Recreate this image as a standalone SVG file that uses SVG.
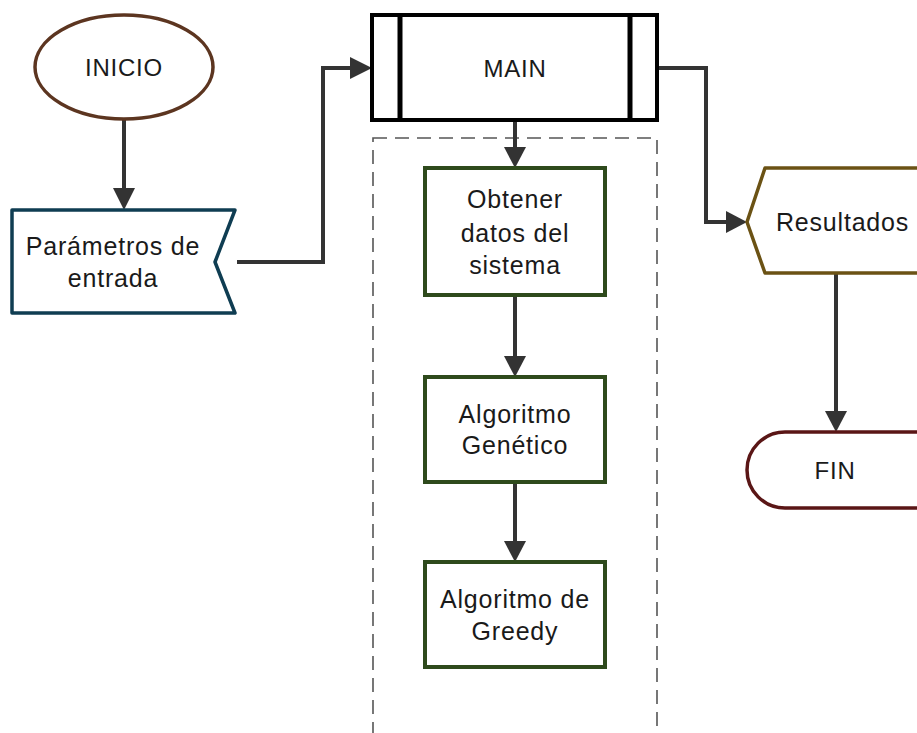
<svg xmlns="http://www.w3.org/2000/svg" width="917" height="733" viewBox="0 0 917 733">
<style>
.t{font-family:"Liberation Sans",Arial,sans-serif;font-size:24px;fill:#1a1a1a;text-anchor:middle;letter-spacing:0.8px}
.c{fill:none;stroke:#333;stroke-width:4}
.g{fill:#fff;stroke:#2e4a1c;stroke-width:4}
</style>
<defs>
<marker id="ah" viewBox="0 0 10 10" refX="10" refY="5" markerWidth="6" markerHeight="6" markerUnits="userSpaceOnUse" orient="auto">
<path d="M0,0 L10,5 L0,10 z" fill="#333"/>
</marker>
<marker id="a" viewBox="0 0 20 20" refX="20" refY="10" markerWidth="5" markerHeight="5" orient="auto">
<path d="M0,0 L20,10 L0,20 z" fill="#333"/>
</marker>
</defs>
<rect width="917" height="733" fill="#fff"/>
<rect x="373" y="138" width="284" height="620" fill="none" stroke="#555" stroke-width="1.6" stroke-dasharray="14,8"/>
<g id="connectors">
<path class="c" d="M124,120 V190" />
<path d="M113,188 L135,188 L124,210 z" fill="#333"/>
<path class="c" d="M237,262 H323 V68 H352"/>
<path d="M350,57 L372,68 L350,79 z" fill="#333"/>
<path class="c" d="M515,120 V150"/>
<path d="M504,147 L526,147 L515,168 z" fill="#333"/>
<path class="c" d="M515,295 V358"/>
<path d="M504,356 L526,356 L515,377 z" fill="#333"/>
<path class="c" d="M515,482 V543"/>
<path d="M504,541 L526,541 L515,562 z" fill="#333"/>
<path class="c" d="M657,68 H706 V222 H728"/>
<path d="M726,211 L747,222 L726,233 z" fill="#333"/>
<path class="c" d="M836,273 V414"/>
<path d="M825,411 L847,411 L836,432 z" fill="#333"/>
</g>
<g id="inicio">
<ellipse cx="124" cy="67" rx="89" ry="52" fill="#fff" stroke="#5c3520" stroke-width="3.5"/>
<text class="t" x="124" y="76">INICIO</text>
</g>
<g id="parametros">
<path d="M12,210 H235 L215,262 L235,313 H12 Z" fill="#fff" stroke="#0f3d52" stroke-width="3.5" stroke-linejoin="round"/>
<text class="t" x="113" y="255" style="font-size:25px">Parámetros de</text>
<text class="t" x="113" y="287" style="font-size:25px">entrada</text>
</g>
<g id="main">
<rect x="372" y="15" width="285" height="105" fill="#fff" stroke="#000" stroke-width="4"/>
<line x1="400" y1="15" x2="400" y2="120" stroke="#000" stroke-width="5"/>
<line x1="630" y1="15" x2="630" y2="120" stroke="#000" stroke-width="5"/>
<text class="t" x="515" y="77">MAIN</text>
</g>
<g id="obtener">
<rect class="g" x="425" y="168" width="180" height="127"/>
<text class="t" x="515" y="208" style="font-size:25px">Obtener</text>
<text class="t" x="515" y="242" style="font-size:25px">datos del</text>
<text class="t" x="515" y="274" style="font-size:25px">sistema</text>
</g>
<g id="genetico">
<rect class="g" x="425" y="377" width="180" height="105"/>
<text class="t" x="515" y="423" style="font-size:25px">Algoritmo</text>
<text class="t" x="515" y="454" style="font-size:25px">Genético</text>
</g>
<g id="greedy">
<rect class="g" x="425" y="562" width="180" height="105"/>
<text class="t" x="515" y="608" style="font-size:25px">Algoritmo de</text>
<text class="t" x="515" y="640" style="font-size:25px">Greedy</text>
</g>
<g id="resultados">
<path d="M940,168 H765 L747,222 L765,273 H940" fill="#fff" stroke="#6b5214" stroke-width="3.5" stroke-linejoin="round"/>
<text class="t" x="776" y="231" style="font-size:25px;text-anchor:start">Resultados</text>
</g>
<g id="fin">
<rect x="747" y="432" width="220" height="76" rx="38" ry="38" fill="#fff" stroke="#5a1616" stroke-width="3.5"/>
<text class="t" x="835" y="479">FIN</text>
</g>
</svg>
